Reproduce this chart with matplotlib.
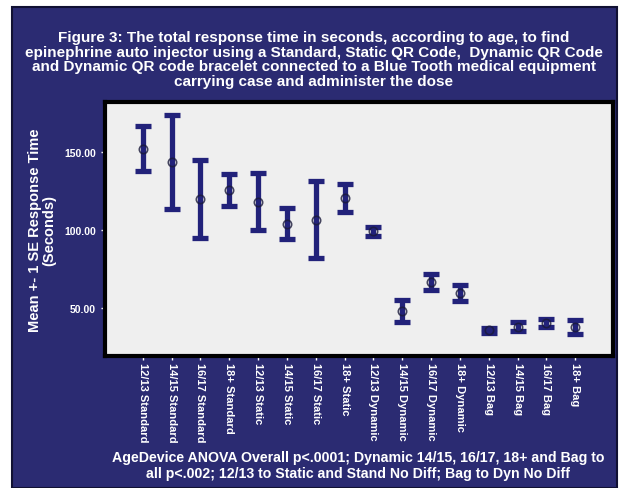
import matplotlib.pyplot as plt
from matplotlib.patches import Rectangle
from matplotlib.ticker import FormatStrFormatter

plt.rcParams['font.family'] = ['Liberation Sans', 'DejaVu Sans']
plt.rcParams['font.weight'] = 'bold'

# Age group / device combinations
groups = ["12/13 Standard", "14/15 Standard", "16/17 Standard", "18+ Standard",
          "12/13 Static", "14/15 Static", "16/17 Static", "18+ Static",
          "12/13 Dynamic", "14/15 Dynamic", "16/17 Dynamic", "18+ Dynamic",
          "12/13 Bag", "14/15 Bag", "16/17 Bag", "18+ Bag"]

# mean response time (seconds) and standard error
means = [152, 143.5, 119.5, 125.5, 118, 104, 106.5, 120.5,
         99, 48, 66.5, 59.5, 35.5, 37.8, 40.2, 37.8]
se = [14.3, 30, 25, 10.2, 18.2, 9.8, 24.6, 8.8,
      2.9, 7, 4.9, 5.1, 1.7, 2.8, 2.6, 4.5]

navy = '#2b2b72'
bar_color = '#22227a'

title = ("Figure 3: The total response time in seconds, according to age, to find\n"
         "epinephrine auto injector using a Standard, Static QR Code,  Dynamic QR Code\n"
         "and Dynamic QR code bracelet connected to a Blue Tooth medical equipment\n"
         "carrying case and administer the dose")
note = ("AgeDevice ANOVA Overall p<.0001; Dynamic 14/15, 16/17, 18+ and Bag to\n"
        "all p<.002; 12/13 to Static and Stand No Diff; Bag to Dyn No Diff")

fig = plt.figure(figsize=(6.21, 4.89), dpi=100)
fig.patch.set_facecolor('white')

# navy panel behind everything
panel = Rectangle((12 / 621, 0), 605 / 621, 481 / 489, transform=fig.transFigure,
                  facecolor=navy, edgecolor='#111133', linewidth=1.5, zorder=-1)
fig.add_artist(panel)

ax = fig.add_axes([105 / 621, 1 - 357 / 489, 508 / 621, 254 / 489])
ax.set_zorder(1)
ax.set_facecolor('#efefef')
for s in ax.spines.values():
    s.set_linewidth(3)
    s.set_color('black')

x = list(range(len(groups)))
ax.errorbar(x, means, yerr=se, fmt='none', ecolor=bar_color, elinewidth=3.8,
            capsize=5.5, capthick=3.8, zorder=2)
ax.plot(x, means, 'o', markersize=6, markerfacecolor='none',
        markeredgecolor='#1a1a3a', markeredgewidth=1.2, alpha=0.8, zorder=3)

ax.set_xlim(-1.31, 16.31)
ax.set_ylim(19, 182)
ax.set_yticks([50, 100, 150])
ax.yaxis.set_major_formatter(FormatStrFormatter('%.2f'))
ax.set_xticks(x)
ax.set_xticklabels(groups, rotation=270, fontsize=8, color='white')
ax.tick_params(axis='y', colors='white', labelsize=7.5, length=3, width=1)
ax.tick_params(axis='x', colors='white', length=3, width=1, pad=1)

ax.set_ylabel("Mean +- 1 SE Response Time\n(Seconds)", color='white',
              fontsize=10.5, fontweight='bold', linespacing=0.95, labelpad=6)

fig.text(0.505, 1 - 60 / 489, title, ha='center', va='center', color='white',
         fontsize=11, fontweight='bold', linespacing=1.08)
fig.text(358 / 621, 1 - 466 / 489, note, ha='center', va='center', color='white',
         fontsize=10.2, fontweight='bold', linespacing=1.1)

fig.savefig('out.png', dpi=100, facecolor=fig.get_facecolor())
